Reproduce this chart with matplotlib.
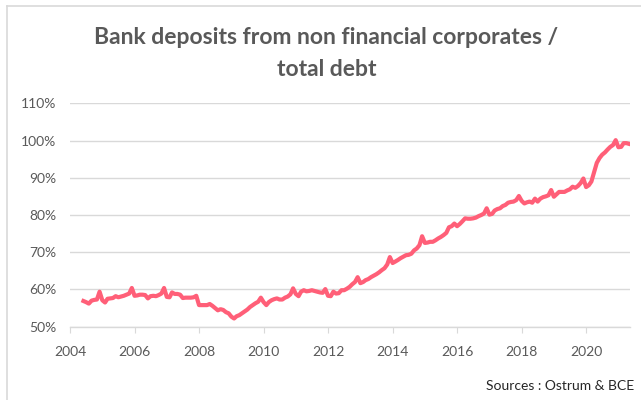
import numpy as np
import pandas as pd
import matplotlib.pyplot as plt
import matplotlib.dates as mdates
from matplotlib.ticker import FuncFormatter

# deposits / total debt, monthly, in % (Jun 2004 -> May 2021)
y2004 = [56.9, 56.6, 56.2, 57.0, 57.2, 57.3, 59.4]
y2005 = [57.1, 56.5, 57.5, 57.6, 57.7, 58.2, 57.9, 58.1, 58.3, 58.6, 58.9, 60.4]
y2006 = [58.3, 58.4, 58.6, 58.6, 58.5, 57.6, 58.2, 58.3, 58.2, 58.5, 58.9, 60.4]
y2007 = [58.0, 57.9, 59.2, 58.8, 58.8, 58.6, 57.7, 57.8, 57.8, 57.8, 57.9, 58.3]
y2008 = [55.8, 55.8, 55.8, 55.8, 56.1, 55.6, 55.0, 54.4, 54.7, 54.5, 53.9, 53.6]
y2009 = [52.7, 52.2, 52.8, 53.1, 53.6, 54.1, 54.6, 55.3, 55.8, 56.3, 56.7, 57.8]
y2010 = [56.6, 55.8, 56.6, 57.1, 57.4, 57.6, 57.3, 57.3, 57.8, 58.1, 58.7, 60.3]
y2011 = [58.8, 58.2, 59.4, 59.8, 59.5, 59.6, 59.8, 59.6, 59.4, 59.2, 59.1, 60.1]
y2012 = [58.3, 58.2, 59.4, 58.9, 59.0, 59.8, 59.8, 60.2, 60.7, 61.4, 62.0, 63.3]
y2013 = [61.7, 62.0, 62.5, 62.8, 63.3, 63.7, 64.1, 64.6, 65.2, 65.7, 66.7, 68.7]
y2014 = [67.1, 67.5, 67.9, 68.4, 68.8, 69.2, 69.3, 69.6, 70.5, 71.0, 71.9, 74.3]
y2015 = [72.5, 72.6, 72.8, 72.8, 73.2, 73.7, 74.1, 74.6, 75.2, 76.7, 77.0, 77.7]
y2016 = [77.0, 77.6, 78.3, 79.1, 79.0, 79.0, 79.1, 79.3, 79.7, 80.0, 80.4, 81.8]
y2017 = [80.1, 80.3, 81.2, 81.6, 81.8, 82.4, 82.7, 83.3, 83.5, 83.6, 84.0, 85.1]
y2018 = [83.8, 83.1, 83.4, 83.6, 83.3, 84.4, 83.6, 84.4, 84.8, 85.0, 85.3, 86.7]
y2019 = [84.9, 85.6, 86.2, 86.2, 86.2, 86.6, 86.9, 87.6, 87.3, 87.8, 88.6, 89.8]
y2020 = [87.5, 88.0, 89.0, 91.5, 94.0, 95.3, 96.2, 96.8, 97.6, 98.3, 98.8, 100.1]
y2021 = [98.2, 98.3, 99.3, 99.3, 99.1]

ratio = (y2004 + y2005 + y2006 + y2007 + y2008 + y2009 + y2010 + y2011 + y2012
         + y2013 + y2014 + y2015 + y2016 + y2017 + y2018 + y2019 + y2020 + y2021)
dates = pd.date_range('2004-06-01', periods=len(ratio), freq='MS')

plt.rcParams['font.family'] = ['Lato', 'DejaVu Sans']
grey = '#595959'

fig = plt.figure(figsize=(6.41, 4.0), dpi=100)
ax = fig.add_axes([70/641, 1-326.7/400, 560/641, (326.7-103.3)/400])

ax.plot(dates, ratio, color='#FF5F78', lw=3.0, solid_joinstyle='round', zorder=3)

ax.set_ylim(50, 110)
ax.set_yticks(np.arange(50, 111, 10))
ax.yaxis.set_major_formatter(FuncFormatter(lambda v, p: '%d%%' % v))
ax.set_xlim(pd.Timestamp('2004-01-01'), pd.Timestamp('2021-05-12'))
ax.xaxis.set_major_locator(mdates.YearLocator(2))
ax.xaxis.set_major_formatter(mdates.DateFormatter('%Y'))

ax.grid(axis='y', color='#D9D9D9', lw=1.0)
ax.set_axisbelow(True)
for s in ['top', 'right', 'left']:
    ax.spines[s].set_visible(False)
ax.spines['bottom'].set_color('#D9D9D9')
ax.spines['bottom'].set_linewidth(1.0)
ax.tick_params(axis='y', length=0, pad=10, labelsize=10, labelcolor=grey)
ax.tick_params(axis='x', length=4, color='#D9D9D9', pad=10, labelsize=10, labelcolor=grey)

fig.text(0.509, 0.905, 'Bank deposits from non financial corporates /',
         ha='center', va='center', fontsize=16.5, fontweight='bold', color=grey)
fig.text(0.509, 0.825, 'total debt',
         ha='center', va='center', fontsize=16.5, fontweight='bold', color=grey)
fig.text(0.99, 0.035, 'Sources : Ostrum & BCE', ha='right', va='center',
         fontsize=10, color='#262626')

# chart frame (left and top edges)
fig.add_artist(plt.Line2D([7/641, 7/641], [0, 1-6/400], color='#D9D9D9', lw=1.2,
                          transform=fig.transFigure))
fig.add_artist(plt.Line2D([7/641, 1], [1-6/400, 1-6/400], color='#D9D9D9', lw=1.2,
                          transform=fig.transFigure))

fig.savefig('out.png', dpi=100)
